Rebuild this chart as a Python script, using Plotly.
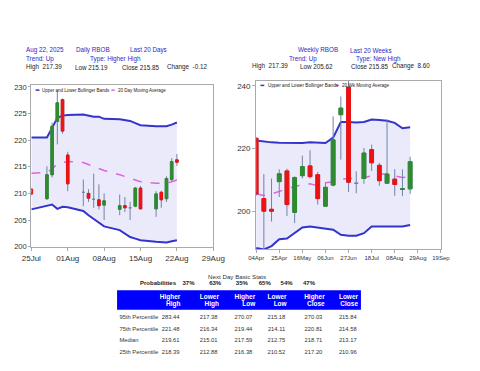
import plotly.graph_objects as go

# The page body keeps its default 8px margin, so the figure is sized to fill the
# 480x371 window exactly; positions below are given in window pixels.
OX, OY = 8, 8
FW, FH = 464, 355
def px(x): return (x - OX) / FW
def py(y): return 1 - (y - OY) / FH

FONT = "Liberation Sans, Arial, sans-serif"
BLUE_TXT = "#2a2ac4"
BAND = "#3434cc"
FILL = "rgb(234,234,251)"
MA_C = "#dd66dd"
WICK = "#7083a8"
GREEN = "#2e8b2e"
RED = "#ee1111"

# ---------------- Daily data (last 20 days) ----------------
d_dates = ["2025-07-25", "2025-07-28", "2025-07-29", "2025-07-30", "2025-07-31", "2025-08-01",
           "2025-08-04", "2025-08-05", "2025-08-06", "2025-08-07", "2025-08-08",
           "2025-08-11", "2025-08-12", "2025-08-13", "2025-08-14", "2025-08-15",
           "2025-08-18", "2025-08-19", "2025-08-20", "2025-08-21", "2025-08-22"]
d_open = [210.8, 209.0, 213.5, 223.5, 227.6, 217.2, 210.2, 210.0, 208.9, 208.8, 207.8,
          207.0, 207.7, 207.3, 207.6, 211.0, 207.1, 210.2, 209.0, 212.6, 216.3]
d_high = [211.0, 215.1, 223.3, 229.3, 227.8, 217.8, 212.6, 210.8, 213.7, 211.7, 210.0,
          209.8, 209.3, 208.4, 211.2, 211.4, 210.4, 210.5, 213.2, 216.6, 217.39]
d_low = [209.6, 208.8, 213.0, 219.2, 221.2, 210.4, 207.6, 208.4, 207.3, 207.0, 205.0,
         205.9, 206.5, 205.0, 207.4, 207.0, 205.6, 207.3, 208.4, 212.3, 215.19]
d_close = [209.9, 213.5, 222.6, 227.0, 221.7, 211.8, 210.2, 209.1, 208.9, 207.7, 208.6,
           207.7, 207.3, 207.3, 211.0, 207.1, 209.9, 208.8, 212.8, 215.97, 215.85]
d_upper = [220.5, 220.5, 222.3, 224.2, 224.6, 224.7, 224.8, 224.6, 224.4, 224.4, 224.0,
           223.9, 223.8, 223.6, 223.2, 222.8, 222.6, 222.6, 222.6, 222.9, 223.3]
d_lower = [207.0, 207.6, 207.9, 207.1, 207.5, 207.4, 206.7, 205.9, 205.2, 204.4, 203.8,
           203.1, 202.5, 201.8, 201.5, 201.2, 200.9, 200.8, 200.8, 201.0, 201.2]
d_ma = [213.8, 213.9, 214.6, 215.5, 215.8, 216.0, 215.8, 215.4, 215.0, 214.7, 214.3,
        213.5, 213.2, 212.9, 212.5, 212.2, 211.9, 211.9, 211.9, 212.2, 212.5]

# ---------------- Weekly data (last 20 weeks) ----------------
w_dates = ["2025-04-04", "2025-04-11", "2025-04-18", "2025-04-25", "2025-05-02", "2025-05-09",
           "2025-05-16", "2025-05-23", "2025-05-30", "2025-06-06", "2025-06-13", "2025-06-20",
           "2025-06-27", "2025-07-04", "2025-07-11", "2025-07-18", "2025-07-25", "2025-08-01",
           "2025-08-08", "2025-08-15", "2025-08-22"]
w_open = [223.3, 204.1, 200.7, 209.5, 212.9, 199.7, 211.4, 214.5, 211.7, 201.7, 208.4, 230.8,
          239.6, 209.0, 210.5, 219.7, 214.7, 209.0, 210.3, 207.0, 207.2]
w_high = [223.6, 211.9, 210.5, 213.4, 213.6, 211.2, 217.8, 219.5, 212.6, 209.3, 230.3, 236.6,
          241.6, 212.8, 220.2, 221.3, 215.5, 229.3, 213.5, 213.4, 217.39]
w_low = [205.0, 188.1, 196.8, 204.6, 198.6, 196.3, 210.5, 210.5, 202.2, 201.5, 208.0, 216.5,
         206.2, 205.8, 208.8, 212.9, 208.2, 208.9, 205.0, 204.9, 205.62]
w_close = [205.6, 200.1, 200.1, 212.0, 202.2, 210.8, 214.3, 211.1, 204.1, 207.7, 222.8, 232.9,
           209.3, 209.0, 218.6, 215.5, 209.8, 211.9, 208.6, 207.25, 215.85]
w_upper = [222.6, 222.2, 222.0, 221.9, 221.8, 221.8, 221.8, 222.0, 222.0, 221.8, 223.5, 228.5,
           228.5, 228.3, 228.5, 229.3, 229.1, 228.9, 228.2, 226.5, 226.8]
w_lower = [188.4, 187.9, 189.0, 191.2, 191.4, 193.1, 194.9, 195.2, 194.9, 194.7, 194.2, 192.6,
           192.3, 192.3, 193.1, 195.2, 195.2, 195.0, 195.0, 195.2, 195.7]
w_ma = [205.6, 205.1, 205.6, 206.4, 207.2, 208.0, 208.4, 208.8, 208.2, 209.1, 209.5, 210.3,
        210.5, 210.5, 210.8, 211.4, 211.9, 211.9, 211.4, 210.8, 211.0]

# ---------------- Stats table ----------------
prob_labels = ["37%", "63%", "35%", "65%", "54%", "47%"]
col_top = ["Higher", "Lower", "Higher", "Lower", "Higher", "Lower"]
col_bottom = ["High", "High", "Low", "Low", "Close", "Close"]
row_labels = ["95th Percentile", "75th Percentile", "Median", "25th Percentile"]
higher_high = [283.44, 221.48, 219.61, 218.39]
lower_high = [217.38, 216.34, 215.01, 212.88]
higher_low = [270.07, 219.44, 217.59, 216.38]
lower_low = [215.18, 214.11, 212.75, 210.52]
higher_close = [270.03, 220.81, 218.71, 217.20]
lower_close = [215.84, 214.58, 213.17, 210.96]

# layout constants for the table (window-pixel units of the full-figure helper axis)
TAB_COL_RIGHT = [177.5, 217.5, 254, 288.5, 327.5, 363.5]
TAB_HEAD_RIGHT = [178.5, 219, 257, 290, 330, 365]
TAB_ROW_Y = [321, 333, 344.5, 356]
TAB_HEAD_Y = [300.5, 307.5]
PROB_X = [187, 215, 243, 267, 290, 313.5]

fig = go.Figure()


def add_chart(dates, o, h, l, c, up, lo, ma, xa, ya, xc, yc):
    fig.add_trace(go.Scatter(x=dates, y=up, mode="lines", line=dict(color=BAND, width=2),
                             xaxis=xa, yaxis=ya, showlegend=False, hoverinfo="skip"))
    fig.add_trace(go.Scatter(x=dates, y=lo, mode="lines", line=dict(color=BAND, width=2),
                             fill="tonexty", fillcolor=FILL,
                             xaxis=xa, yaxis=ya, showlegend=False, hoverinfo="skip"))
    fig.add_trace(go.Scatter(x=dates, y=ma, mode="lines", line=dict(color=MA_C, width=1.5, dash="dash"),
                             xaxis=xa, yaxis=ya, showlegend=False, hoverinfo="skip"))
    # wicks (and doji ticks) on an overlaid copy of the axes so they sit above the band fill
    fig.add_trace(go.Candlestick(x=dates, open=o, high=h, low=l, close=c,
                                 increasing=dict(line=dict(color=WICK, width=1), fillcolor="rgba(0,0,0,0)"),
                                 decreasing=dict(line=dict(color=WICK, width=1), fillcolor="rgba(0,0,0,0)"),
                                 whiskerwidth=0, xaxis=xc, yaxis=yc, showlegend=False))
    bo, bc, bh, bl = [], [], [], []
    for oo, cc in zip(o, c):
        if abs(cc - oo) < 0.05:
            bo.append(None); bc.append(None); bh.append(None); bl.append(None)
        else:
            bo.append(oo); bc.append(cc); bh.append(max(oo, cc)); bl.append(min(oo, cc))
    fig.add_trace(go.Candlestick(x=dates, open=bo, high=bh, low=bl, close=bc,
                                 increasing=dict(line=dict(color=GREEN, width=1), fillcolor=GREEN),
                                 decreasing=dict(line=dict(color=RED, width=1), fillcolor=RED),
                                 whiskerwidth=0, xaxis=xc, yaxis=yc, showlegend=False))


add_chart(d_dates, d_open, d_high, d_low, d_close, d_upper, d_lower, d_ma, "x", "y", "x3", "y3")
add_chart(w_dates, w_open, w_high, w_low, w_close, w_upper, w_lower, w_ma, "x2", "y2", "x5", "y5")

# ---- table drawn as text on a full-figure helper axis ----
tab_font = dict(size=5.8, color="#333333", family=FONT)
fig.add_trace(go.Scatter(x=[114.5] * len(row_labels), y=TAB_ROW_Y, text=row_labels, mode="text",
                         textposition="middle right", textfont=tab_font,
                         xaxis="x4", yaxis="y4", showlegend=False, hoverinfo="skip"))
for xr, col in zip(TAB_COL_RIGHT, [higher_high, lower_high, higher_low, lower_low, higher_close, lower_close]):
    fig.add_trace(go.Scatter(x=[xr] * len(col), y=TAB_ROW_Y, text=[f"{v:.2f}" for v in col], mode="text",
                             textposition="middle left", textfont=tab_font,
                             xaxis="x4", yaxis="y4", showlegend=False, hoverinfo="skip"))
for words, yy in zip([col_top, col_bottom], TAB_HEAD_Y):
    fig.add_trace(go.Scatter(x=TAB_HEAD_RIGHT, y=[yy] * len(words), text=words, mode="text",
                             textposition="middle left",
                             textfont=dict(size=6.5, color="white", family=FONT, weight="bold"),
                             xaxis="x4", yaxis="y4", showlegend=False, hoverinfo="skip"))
fig.add_trace(go.Scatter(x=PROB_X, y=[286] * len(prob_labels), text=prob_labels, mode="text",
                         textposition="middle center",
                         textfont=dict(size=6, color="#222222", family=FONT, weight="bold"),
                         xaxis="x4", yaxis="y4", showlegend=False, hoverinfo="skip"))

axis_common = dict(showgrid=False, zeroline=False, showline=True, linecolor="#aaaaaa", linewidth=1,
                   mirror=True, ticks="outside", ticklen=3, tickcolor="#aaaaaa",
                   tickfont=dict(size=8, color="#333333", family=FONT))

D_XR = ["2025-07-25", "2025-08-29"]
D_YR = [199.95, 230.4]
W_XR = ["2025-04-04", "2025-09-19"]
W_YR = [188.1, 241.6]

fig.update_layout(
    width=FW, height=FH, margin=dict(l=0, r=0, t=0, b=0),
    paper_bgcolor="white", plot_bgcolor="rgba(0,0,0,0)",
    font=dict(family=FONT, color="#333333"),
    showlegend=False,
    xaxis=dict(axis_common, domain=[px(22), px(213)], type="date",
               range=D_XR, tick0="2025-07-25", dtick=7 * 86400000,
               tickformat="%d%b", anchor="y", rangeslider=dict(visible=False)),
    yaxis=dict(axis_common, domain=[py(249), py(84)], range=D_YR, dtick=5, anchor="x",
               ticklen=2, tickfont=dict(size=7.6, color="#333333", family=FONT)),
    xaxis3=dict(overlaying="x", type="date", range=D_XR, visible=False, anchor="y3",
                rangeslider=dict(visible=False)),
    yaxis3=dict(overlaying="y", range=D_YR, visible=False, anchor="x3"),
    xaxis2=dict(axis_common, domain=[px(258), px(452)], type="date",
                range=W_XR, tick0="2025-04-04", dtick=21 * 86400000,
                tickformat="%d%b", anchor="y2", rangeslider=dict(visible=False),
                tickfont=dict(size=6, color="#333333", family=FONT)),
    yaxis2=dict(axis_common, domain=[py(251), py(80)], range=W_YR, dtick=20, anchor="x2"),
    xaxis5=dict(overlaying="x2", type="date", range=W_XR, visible=False, anchor="y5",
                rangeslider=dict(visible=False)),
    yaxis5=dict(overlaying="y2", range=W_YR, visible=False, anchor="x5"),
    xaxis4=dict(domain=[0, 1], range=[OX, OX + FW], visible=False, anchor="y4", fixedrange=True),
    yaxis4=dict(domain=[0, 1], range=[OY + FH, OY], visible=False, anchor="x4", fixedrange=True),
)

ann = []
def text(t, x, y, color="#222222", size=6.3, xanchor="left", bold=False):
    if bold:
        t = f"<b>{t}</b>"
    ann.append(dict(text=t, x=px(x), y=py(y), xref="paper", yref="paper", xanchor=xanchor,
                    yanchor="middle", showarrow=False, borderpad=0,
                    font=dict(size=size, color=color, family=FONT)))

NB2 = "&nbsp;&nbsp;"
NB1 = "&nbsp;"
# Daily header
text("Aug 22, 2025", 15.5, 49, BLUE_TXT)
text("Daily RBOB", 68, 49, BLUE_TXT)
text("Last 20 Days", 125, 49, BLUE_TXT)
text("Trend: Up", 15.5, 57.5, BLUE_TXT)
text("Type: Higher High", 83, 57.5, BLUE_TXT)
text(f"High{NB2}217.39", 15.5, 66)
text(f"Low{NB1}215.19", 66.5, 66)
text(f"Close{NB1}215.85", 116.5, 66)
text(f"Change{NB2}-0.12", 163, 66)
# Weekly header
text("Weekly RBOB", 301, 49, BLUE_TXT)
text("Last 20 Weeks", 355, 49, BLUE_TXT)
text("Trend: Up", 291.5, 57.5, BLUE_TXT)
text("Type: New High", 361.5, 57.5, BLUE_TXT)
text(f"High{NB2}217.39", 253, 65)
text(f"Low{NB1}205.62", 303, 65)
text(f"Close{NB1}215.85", 356.5, 65)
text(f"Change{NB2}8.60", 399.5, 65)

# legends
text("Upper and Lower Bollinger Bands", 32.5, 89.5, "#222222", 4.5)
text("20 Day Moving Average", 111.5, 89.5, "#222222", 4.5)
text("Upper and Lower Bollinger Bands", 269, 84.7, "#222222", 4.7)
text("20 Wk Moving Average", 347, 84.7, "#222222", 4.6)

# table titles
text("Next Day Basic Stats", 238, 279, "#333333", 6.2, "center")
text("Probabilities", 156, 286, "#222222", 6, "center", True)

fig.update_layout(annotations=ann)

shapes = []
for (x0, x1, y, col) in [(26.5, 30.5, 89.5, BAND), (106, 109.5, 89.5, MA_C),
                         (262.5, 266.5, 84.7, BAND), (341.5, 345, 84.7, MA_C)]:
    shapes.append(dict(type="line", xref="paper", yref="paper", x0=px(x0), x1=px(x1), y0=py(y), y1=py(y),
                       line=dict(color=col, width=1.5)))
shapes.append(dict(type="rect", xref="x4", yref="y4", x0=112, x1=368, y0=293, y1=313,
                   fillcolor="#0000ff", line=dict(width=0), layer="below"))
fig.update_layout(shapes=shapes)

fig.write_html("out.html", config={"displayModeBar": False})
